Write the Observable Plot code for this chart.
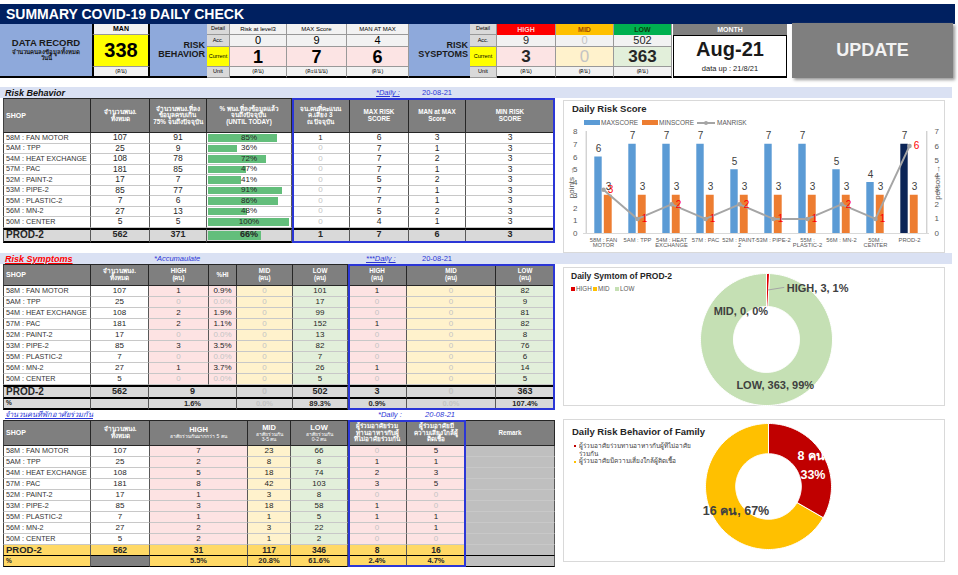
<!DOCTYPE html>
<html><head><meta charset="utf-8">
<script src="https://cdn.jsdelivr.net/npm/d3@7"></script>
<script src="https://cdn.jsdelivr.net/npm/@observablehq/plot@0.6"></script>
<style>
body{margin:0;background:#fff;font-family:"Liberation Sans",Arial,sans-serif;}
#root{position:relative;width:958px;height:575px;overflow:hidden;background:#fff;}
.c{position:absolute;box-sizing:border-box;display:flex;align-items:center;justify-content:center;text-align:center;overflow:hidden;white-space:pre-line;line-height:1.05;}
.l{position:absolute;white-space:nowrap;line-height:1;}
</style></head><body><div id="root"></div><script>
// ---------------- DATA ----------------
const shops = ["58M : FAN MOTOR","5AM : TPP","54M : HEAT EXCHANGE","57M : PAC","52M : PAINT-2","53M : PIPE-2","55M : PLASTIC-2","56M : MN-2","50M : CENTER"];
const totalStaff = [107,25,108,181,17,85,7,27,5];
const complete75 = [91,9,78,85,7,77,6,13,5];
const pctComplete = [85,36,72,47,41,91,86,48,100];
const riskLevel3 = [1,0,0,0,0,0,0,0,0];
const maxScore = [6,7,7,7,5,7,7,5,4];
const manAtMax = [3,1,2,1,2,1,1,2,1];
const minScore = [3,3,3,3,3,3,3,3,3];
const behaviorTotal = ["PROD-2",562,371,66,1,7,6,3];

const accHigh = [1,0,2,2,0,3,0,1,0];
const accHighPct = ["0.9%","0.0%","1.9%","1.1%","0.0%","3.5%","0.0%","3.7%","0.0%"];
const accMid = [0,0,0,0,0,0,0,0,0];
const accLow = [101,17,99,152,13,82,7,26,5];
const dayHigh = [1,0,0,1,0,0,0,1,0];
const dayMid = [0,0,0,0,0,0,0,0,0];
const dayLow = [82,9,81,82,8,76,6,14,5];
const symTotal = ["PROD-2",562,9,0,502,3,0,363];
const symPct = ["%","","1.6%","0.0%","89.3%","0.9%","0.0%","107.4%"];

const famHigh = [7,2,5,8,1,3,1,2,2];
const famMid = [23,8,18,42,3,18,1,3,1];
const famLow = [66,8,74,103,8,58,5,22,2];
const famEat = [0,1,2,3,0,1,1,0,0];
const famNear = [5,1,3,5,0,0,1,1,0];
const famTotal = ["PROD-2",562,31,117,346,8,16,""];
const famPct = ["%","","5.5%","20.8%","61.6%","2.4%","4.7%",""];

const manToday = 338;
const behaviorHeads = ["Risk at level3","MAX Score","MAN AT MAX"];
const behaviorAcc = [0,9,4];
const behaviorCur = [1,7,6];
const behaviorUnits = ["(คน)","(คะแนน)","(คน)"];
const symHeads = ["HIGH","MID","LOW"];
const symAcc = [9,0,502];
const symCur = [3,0,363];
const detailLabels = ["Detail","Acc.","Current","Unit"];
const monthLabel = "Aug-21";
const dataUp = "data up : 21/8/21";

const chartCats = ["58M : FAN\nMOTOR","5AM : TPP","54M : HEAT\nEXCHANGE","57M : PAC","52M : PAINT-\n2","53M : PIPE-2","55M :\nPLASTIC-2","56M : MN-2","50M :\nCENTER","PROD-2"];
const chartMax = [6,7,7,7,5,7,7,5,4,7];
const chartMin = [3,3,3,3,3,3,3,3,3,3];
const chartManRisk = [3,1,2,1,2,1,1,2,1,6];

const symDailyNames = ["HIGH","MID","LOW"];
const symDailyValues = [3,0,363];
const famDailyNames = ["ผู้ร่วมอาศัยร่วมทานอาหารกับผู้ที่ไม่อาศัยร่วมกัน","ผู้ร่วมอาศัยมีความเสี่ยงใกล้ผู้ติดเชื้อ"];
const famDailyValues = [8,16];

const t1Head = ["SHOP","จำนวนพนง.\nทั้งหมด","จำนวนพนง.ที่ลง\nข้อมูลครบเกิน\n75% จนถึงปัจจุบัน","% พนง.ที่ลงข้อมูลแล้ว\nจนถึงปัจจุบัน\n(UNTIL TODAY)","จน.คนที่คะแนน\nค.เสี่ยง 3\nณ ปัจจุบัน","MAX RISK\nSCORE","MAN at MAX\nScore","MIN RISK\nSCORE"];
const t2Head = ["SHOP","จำนวนพนง.\nทั้งหมด","HIGH\n(คน)","%HI","MID\n(คน)","LOW\n(คน)","HIGH\n(คน)","MID\n(คน)","LOW\n(คน)"];
const t3Head = ["SHOP","จำนวนพนง.\nทั้งหมด","HIGH","MID","LOW","ผู้ร่วมอาศัยร่วม\nทานอาหารกับผู้\nที่ไม่อาศัยร่วมกัน","ผู้ร่วมอาศัยมี\nความเสี่ยงใกล้ผู้\nติดเชื้อ","Remark"];
const t3Sub = ["","","อาศัยร่วมกันมากกว่า 5 คน","อาศัยร่วมกัน\n3-5 คน","อาศัยร่วมกัน\n0-2 คน","","",""];

// ---------------- HELPERS ----------------
const NAVY="#002060", HDR="#7f7f7f", PINK="#fde3e3", YEL="#fff2cc", GRN="#e2efda", GREY="#d9d9d9", FADE="#c4c4c4", BAND="#dae1f3", PERI="#8ea9db", BLUE="#2b36d6";
const root=document.getElementById('root');
function box(x,y,w,h,content,st={},html=false){
  const d=document.createElement('div'); d.className='c';
  Object.assign(d.style,{left:x+'px',top:y+'px',width:w+'px',height:h+'px'},st);
  const t=document.createElement('div'); t.style.position='relative';
  if(html) t.innerHTML=content; else t.textContent=(content==null?'':String(content));
  d.appendChild(t); root.appendChild(d); return d;
}
function label(x,y,text,st={}){
  const d=document.createElement('div'); d.className='l';
  Object.assign(d.style,{left:x+'px',top:y+'px'},st); d.textContent=text; root.appendChild(d); return d;
}
function grid(x0,y0,colW,rowH,fn){
  const xs=[x0]; colW.forEach(w=>xs.push(xs[xs.length-1]+w));
  const ys=[y0]; rowH.forEach(h=>ys.push(ys[ys.length-1]+h));
  for(let r=0;r<rowH.length;r++){
    for(let c=0;c<colW.length;){
      const s=fn(r,c)||{}; const span=s.span||1; const w=xs[c+span]-xs[c];
      const st=Object.assign({background:s.bg||'#fff',color:s.color||'#262626',fontSize:(s.size||8)+'px',fontWeight:s.bold?'bold':'normal',
        borderRight:'1px solid '+(s.bc||'#595959'),borderBottom:'1px solid '+(s.bbc||'#c8c8c8')},
        c===0?{borderLeft:'1px solid #404040'}:{},
        s.align==='left'?{justifyContent:'flex-start',textAlign:'left',paddingLeft:'2px'}:{}, s.st||{});
      const d=box(xs[c],ys[r],w,rowH[r],s.html||s.text,st,!!s.html);
      if(s.bar!=null){
        const b=document.createElement('div');
        Object.assign(b.style,{position:'absolute',left:'1px',top:'1px',bottom:'1px',width:((w-4)*s.bar/100)+'px',background:'#63be7b'});
        d.insertBefore(b,d.firstChild);
      }
      c+=span;
    }
  }
  return {xs,ys};
}
function blueBox(x1,y1,x2,y2){ box(x1,y1,x2-x1,y2-y1,'',{border:'2px solid '+BLUE,background:'transparent'}); }
const fade=v=>v===0?FADE:'#262626';
const headCell=(t,c)=>({text:t,bg:HDR,color:'#fff',bold:true,size:c===0?7:6.3,align:c===0?'left':'center',bc:'#262626',bbc:'#262626',st:{borderTop:'1px solid #262626'}});
const totStyle={borderTop:'2px solid #000',borderBottom:'2px solid #000'};

// ---------------- HEADER ----------------
box(0,4,955,20,"SUMMARY COVID-19 DAILY CHECK",{background:NAVY,color:'#fff',fontWeight:'bold',fontSize:'14px',justifyContent:'flex-start',paddingLeft:'6px'});
const ty=[24,35,47,67,78];
box(0,24,92,54,'<div style="font-size:9.5px;font-weight:bold">DATA RECORD</div><div style="font-size:6px;font-weight:bold;margin-top:1px">จำนวนคนลงข้อมูลทั้งหมด<br>วันนี้</div>',{background:PERI,color:'#1a1a1a',borderBottom:'2px solid #000'},true);
box(92,24,58,11,"MAN",{background:'#f2f2f2',fontWeight:'bold',fontSize:'7px',borderLeft:'2px solid #000',borderRight:'2px solid #000',borderBottom:'1px solid #999'});
box(92,35,58,32,manToday,{background:'#ffff00',fontWeight:'bold',fontSize:'20px',borderLeft:'2px solid #000',borderRight:'2px solid #000',borderBottom:'1px solid #999'});
box(92,67,58,11,"(คน)",{background:'#f2f2f2',fontSize:'5.5px',borderLeft:'2px solid #000',borderRight:'2px solid #000',borderBottom:'2px solid #000'});
box(150,24,57,54,"RISK\nBEHAVIOR",{background:PERI,fontWeight:'bold',fontSize:'9px',justifyContent:'flex-end',textAlign:'right',paddingRight:'2px',color:'#1a1a1a',borderBottom:'2px solid #000'});
function detailCol(x,w){
  detailLabels.forEach((t,i)=>box(x,ty[i],w,ty[i+1]-ty[i],t,{background:t==="Current"?'#ffff00':GREY,fontSize:'5.5px',lineHeight:'1',borderBottom:'1px solid #999',borderRight:'1px solid #999'}));
}
detailCol(207,23);
const bx=[230,287,347,409];
behaviorHeads.forEach((h,i)=>{
  const x=bx[i], w=bx[i+1]-x;
  box(x,ty[0],w,11,h,{background:'#f2f2f2',fontSize:'6px',lineHeight:'1',borderRight:'1px solid #999',borderBottom:'1px solid #999'});
  box(x,ty[1],w,12,behaviorAcc[i],{background:'#f2f2f2',fontSize:'11px',lineHeight:'1',borderRight:'1px solid #999',borderBottom:'1px solid #999'});
  box(x,ty[2],w,20,behaviorCur[i],{background:'#fce4e4',fontSize:'18px',lineHeight:'1',fontWeight:'bold',borderRight:'1px solid #999',borderBottom:'1px solid #999'});
  box(x,ty[3],w,11,behaviorUnits[i],{background:'#f2f2f2',fontSize:'5.5px',lineHeight:'1',borderRight:'1px solid #999',borderBottom:'2px solid #000'});
});
box(409,24,61,54,"RISK\nSYSPTOMS",{background:PERI,fontWeight:'bold',fontSize:'9px',justifyContent:'flex-end',textAlign:'right',paddingRight:'2px',color:'#1a1a1a',borderBottom:'2px solid #000'});
detailCol(470,27);
const sx=[497,556,614,672];
const symHeadBg=['#ff0000','#ffc000','#00b050'], symHeadFg=['#ffd0d0','#9c4a00','#0b3d0b'], symCurBg=['#fce4e4',YEL,GRN];
symHeads.forEach((h,i)=>{
  const x=sx[i], w=sx[i+1]-x;
  box(x,ty[0],w,11,h,{background:symHeadBg[i],color:symHeadFg[i],fontWeight:'bold',fontSize:'7px',lineHeight:'1',borderRight:'1px solid #999'});
  box(x,ty[1],w,12,symAcc[i],{background:'#f2f2f2',fontSize:'11px',lineHeight:'1',color:fade(symAcc[i]),borderRight:'1px solid #999',borderBottom:'1px solid #999'});
  box(x,ty[2],w,20,symCur[i],{background:symCurBg[i],fontSize:'17px',lineHeight:'1',fontWeight:symCur[i]?'bold':'normal',color:fade(symCur[i]),borderRight:'1px solid #999',borderBottom:'1px solid #999'});
  box(x,ty[3],w,11,"(คน)",{background:'#f2f2f2',fontSize:'5.5px',lineHeight:'1',borderRight:'1px solid #999',borderBottom:'2px solid #000'});
});
box(673,24,114,11,"MONTH",{background:'#808080',color:'#fff',fontWeight:'bold',fontSize:'7px'});
box(673,35,114,43,'<div style="font-size:20px;font-weight:bold">'+monthLabel+'</div><div style="font-size:7.5px;margin-top:5px">'+dataUp+'</div>',{border:'1px solid #000',borderBottom:'2px solid #000',background:'#fff',color:'#1a1a1a'},true);
box(792,23,161,55,"UPDATE",{background:'#7f7f7f',color:'#f2f2f2',fontWeight:'bold',fontSize:'18px',boxShadow:'2px 2px 3px #999'});

// ---------------- SECTION BANDS ----------------
box(0,87,952,11,'',{background:BAND});
label(5,88.5,"Risk Behavior",{fontWeight:'bold',fontStyle:'italic',fontSize:'9px',color:'#111'});
label(376,89,"*Daily :",{fontStyle:'italic',textDecoration:'underline',fontSize:'7.5px',color:BLUE});
label(422,89,"20-08-21",{fontSize:'7.5px',color:BLUE});
box(0,253,952,11,'',{background:BAND});
label(5,254.5,"Risk Symptoms",{fontWeight:'bold',fontStyle:'italic',fontSize:'9px',color:'#ff0000',textDecoration:'underline'});
label(154,254.5,"*Accumaulate",{fontStyle:'italic',fontSize:'7.5px',color:BLUE});
label(366,255,"***Daily :",{fontStyle:'italic',textDecoration:'underline',fontSize:'7.5px',color:BLUE});
label(422,255,"20-08-21",{fontSize:'7.5px',color:BLUE});
label(5,410.5,"จำนวนคนที่พักอาศัยร่วมกัน",{fontStyle:'italic',textDecoration:'underline',fontSize:'7.5px',color:BLUE});
label(378,410.5,"*Daily :",{fontStyle:'italic',fontSize:'7.5px',color:BLUE});
label(425,410.5,"20-08-21",{fontStyle:'italic',fontSize:'7.5px',color:BLUE});

// ---------------- TABLE 1 ----------------
const g1=grid(3,98,[88,59,57,85,58,59,57,89],[35].concat(Array(9).fill(10.5),[15]),(r,c)=>{
  if(r===0) return headCell(t1Head[c],c);
  if(r<=9){
    const i=r-1; const vals=[shops[i],totalStaff[i],complete75[i],pctComplete[i],riskLevel3[i],maxScore[i],manAtMax[i],minScore[i]];
    if(c===0) return {text:vals[0],align:'left',size:7.2,color:'#333'};
    if(c===3) return {bar:vals[3],text:vals[3]+'%',size:8};
    if(c===4) return {text:vals[4],color:fade(vals[4]),size:8};
    return {text:vals[c],size:8.5};
  }
  const v=behaviorTotal[c];
  if(c===0) return {text:v,bg:GREY,bold:true,size:10,align:'left',st:totStyle};
  if(c===3) return {text:v+'%',bar:v,bg:GREY,bold:true,size:9,st:totStyle};
  return {text:v,bg:GREY,bold:true,size:9,st:totStyle};
});
blueBox(g1.xs[4],98,g1.xs[8],243);

// ---------------- TABLE 2 ----------------
const g2=grid(3,264,[88,58,60,28,56,55,59,89,59],[22].concat(Array(9).fill(11),[14,11]),(r,c)=>{
  if(r===0) return headCell(t2Head[c],c);
  const bgs=['#fff','#fff',PINK,PINK,YEL,GRN,PINK,YEL,GRN];
  if(r<=9){
    const i=r-1; const vals=[shops[i],totalStaff[i],accHigh[i],accHighPct[i],accMid[i],accLow[i],dayHigh[i],dayMid[i],dayLow[i]];
    if(c===0) return {text:vals[0],align:'left',size:7.2,color:'#333'};
    const v=vals[c]; const z=(v===0||v==="0.0%");
    return {text:v,bg:bgs[c],color:z?FADE:'#262626',size:8};
  }
  if(r===10){
    const map=[0,1,2,2,3,4,5,6,7]; const v=symTotal[map[c]];
    if(c===0) return {text:v,bg:GREY,bold:true,size:10,align:'left',st:totStyle};
    if(c===2) return {text:v,span:2,bg:GREY,bold:true,size:9,st:totStyle};
    return {text:v,bg:GREY,bold:true,size:9,color:v===0?FADE:'#262626',st:totStyle};
  }
  const map=[0,1,2,2,3,4,5,6,7]; const v=symPct[map[c]];
  if(c===2) return {text:v,span:2,bg:GREY,bold:true,size:7.5,st:{borderBottom:'2px solid #000'}};
  return {text:v,bg:GREY,bold:true,size:c===0?6.5:7.5,align:c===0?'left':'center',color:v==="0.0%"?FADE:'#262626',st:{borderBottom:'2px solid #000'}};
});
blueBox(g2.xs[6],264,g2.xs[9],410);

// ---------------- TABLE 3 ----------------
const g3=grid(3,420,[88,59,98,43,57,59,59,89],[26].concat(Array(9).fill(11),[11,11]),(r,c)=>{
  if(r===0){
    const h=headCell(t3Head[c],c);
    if(t3Sub[c]){ h.html='<div style="font-size:7.5px;font-weight:bold">'+t3Head[c]+'</div><div style="font-size:5px;font-weight:normal;white-space:pre-line">'+t3Sub[c]+'</div>'; }
    return h;
  }
  const bgs=['#fff','#fff',PINK,YEL,GRN,PINK,PINK,'#bfbfbf'];
  if(r<=9){
    const i=r-1; const vals=[shops[i],totalStaff[i],famHigh[i],famMid[i],famLow[i],famEat[i],famNear[i],""];
    if(c===0) return {text:vals[0],align:'left',size:7.2,color:'#333'};
    return {text:vals[c],bg:bgs[c],color:fade(vals[c]),size:8};
  }
  const arr=r===10?famTotal:famPct;
  const bg=c===7?'#bfbfbf':(r===11&&c===1?'#808080':'#ffd966');
  return {text:arr[c],bg,bold:true,size:r===10?(c===0?9.5:8.5):(c===0?6.5:7.5),align:c===0?'left':'center',st:{borderBottom:'1px solid #000'}};
});
blueBox(g3.xs[5],420,g3.xs[7],567);

// ---------------- PANELS ----------------
box(563,100,382,153,'',{border:'1px solid #d9d9d9',background:'#fff'});
label(572,104,"Daily Risk Score",{fontWeight:'bold',fontSize:'9.5px',color:'#262626'});
box(584,120,16,5,'',{background:'#5b9bd5'}); label(601,119.5,"MAXSCORE",{fontSize:'6.5px',color:'#595959'});
box(642,120,16,5,'',{background:'#ed7d31'}); label(659,119.5,"MINSCORE",{fontSize:'6.5px',color:'#595959'});
box(697,121.5,18,2,'',{background:'#a5a5a5'}); box(704,120.5,4,4,'',{background:'#a5a5a5',borderRadius:'2px'}); label(717,119.5,"MANRISK",{fontSize:'6.5px',color:'#595959'});

box(563,267,382,139,'',{border:'1px solid #d9d9d9',background:'#fff'});
label(571,272,"Daily Symtom of PROD-2",{fontWeight:'bold',fontSize:'8.5px',color:'#262626'});
const symColors=['#e00000','#ffc000','#c5e0b4'];
symDailyNames.forEach((n,i)=>{ box(571+i*22,287,4,4,'',{background:symColors[i]}); label(576+i*22,286,n,{fontSize:'6.3px',color:'#595959'}); });

box(563,419,382,143,'',{border:'1px solid #d9d9d9',background:'#fff'});
label(572,427,"Daily Risk Behavior of Family",{fontWeight:'bold',fontSize:'9.5px',color:'#262626'});
const famColors=['#c00000','#ffc000'];
box(574,445,2,2,'',{background:famColors[0]});
box(579,442,130,20,famDailyNames[0],{fontSize:'6.5px',color:'#404040',justifyContent:'flex-start',textAlign:'left',alignItems:'flex-start',whiteSpace:'normal',lineHeight:'1.3',width:'122px',height:'20px'});
box(574,461,2,2,'',{background:famColors[1]});
label(579,458,famDailyNames[1],{fontSize:'6.5px',color:'#404040'});

// ---------------- PLOT: Daily Risk Score ----------------
const rows=chartCats.map((cat,i)=>({cat,max:chartMax[i],min:chartMin[i],man:chartManRisk[i],prod:i===chartCats.length-1}));
const W=382,mL=20,mR=16; const bw=(W-mL-mR)/chartCats.length; const k=8/7;
const chart=Plot.plot({
  width:W,height:130,marginLeft:mL,marginRight:mR,marginTop:5,marginBottom:23,
  style:{fontFamily:'"Liberation Sans",Arial,sans-serif',background:'transparent',overflow:'visible'},
  x:{domain:chartCats,padding:0},
  y:{domain:[0,8]},
  color:{type:'identity'},
  marks:[
    Plot.barY(rows,{x:'cat',y:'max',fill:d=>d.prod?'#0b2456':'#5b9bd5',insetLeft:bw/2-9,insetRight:bw/2+1}),
    Plot.barY(rows,{x:'cat',y:'min',fill:'#ed7d31',insetLeft:bw/2+0.5,insetRight:bw/2-9}),
    Plot.ruleY([0],{stroke:'#d9d9d9'}),
    Plot.ruleX([chartCats[0]],{dx:-bw/2,stroke:'#bfbfbf'}),
    Plot.ruleX([chartCats[chartCats.length-1]],{dx:bw/2,stroke:'#bfbfbf'}),
    Plot.text(rows,{x:'cat',y:'max',text:d=>String(d.max),dx:-5,dy:-8,fontSize:10,fill:'#404040'}),
    Plot.text(rows,{x:'cat',y:'min',text:d=>String(d.min),dx:5,dy:-8,fontSize:10,fill:'#404040'}),
    Plot.line(rows,{x:'cat',y:d=>d.man*k,stroke:'#a5a5a5',strokeWidth:2}),
    Plot.dot(rows,{x:'cat',y:d=>d.man*k,r:2.3,fill:'#a5a5a5'}),
    Plot.text(rows,{x:'cat',y:d=>d.man*k,text:d=>String(d.man),dx:7,fontSize:10,fill:'#ff0000'}),
    Plot.axisY(d3.range(0,9),{anchor:'left',tickSize:0,tickPadding:6,fontSize:8,color:'#595959',label:'points',labelAnchor:'center',labelOffset:15}),
    Plot.axisY(d3.range(0,8).map(v=>v*k),{anchor:'right',tickSize:0,tickPadding:5,fontSize:8,color:'#595959',tickFormat:d=>String(Math.round(d/k)),label:'person',labelAnchor:'center',labelOffset:10}),
    Plot.axisX({tickSize:0,tickPadding:4,fontSize:5.8,color:'#595959',label:null})
  ]
});
const cw=document.createElement('div'); Object.assign(cw.style,{position:'absolute',left:'563px',top:'126px'}); cw.appendChild(chart); root.appendChild(cw);

// ---------------- PLOT: donuts ----------------
function slices(values){ const tot=d3.sum(values); let a=0; return values.map((v,i)=>{const a0=a; a+=v/tot*2*Math.PI; return {i,v,a0,a1:a,mid:(a0+a)/2,pct:v/tot};}); }
function arcPts(a0,a1,r0,r1){ const n=Math.max(2,Math.ceil((a1-a0)/0.03)); const p=[];
  for(let j=0;j<=n;j++){const a=a0+(a1-a0)*j/n; p.push({x:r1*Math.sin(a),y:r1*Math.cos(a)});}
  for(let j=n;j>=0;j--){const a=a0+(a1-a0)*j/n; p.push({x:r0*Math.sin(a),y:r0*Math.cos(a)});}
  return p; }
function donut(size,inner,sl,colors,textMarks){
  return Plot.plot({width:size,height:size,margin:2,x:{domain:[-1,1],axis:null},y:{domain:[-1,1],axis:null},
    style:{fontFamily:'"Liberation Sans",Arial,sans-serif',background:'transparent',overflow:'visible'},
    marks:[...sl.filter(s=>s.v>0).map(s=>Plot.line(arcPts(s.a0,s.a1,inner,1),{x:'x',y:'y',fill:colors[s.i],stroke:'#fff',strokeWidth:1,curve:'linear-closed'})),...textMarks]});
}
const s1=slices(symDailyValues);
const rm1=0.75;
const lab1=s1.map(s=>({x:rm1*Math.sin(s.mid),y:rm1*Math.cos(s.mid),t:`${symDailyNames[s.i]}, ${s.v}, ${Math.round(s.pct*100)}%`}));
const d1=donut(136,0.5,s1,symColors,[
  Plot.link([lab1[0]],{x1:'x',y1:'y',x2:d=>d.x+0.25,y2:d=>d.y+0.04,stroke:'#a5a5a5'}),
  Plot.text([lab1[0]],{x:'x',y:'y',text:'t',textAnchor:'start',dx:19,dy:-2,fontSize:11,fontWeight:'bold',fill:'#404040'}),
  Plot.text([lab1[1]],{x:'x',y:'y',text:'t',textAnchor:'end',dx:-1,dy:21,fontSize:11,fontWeight:'bold',fill:'#404040'}),
  Plot.text([lab1[2]],{x:'x',y:'y',text:'t',dx:10,dy:-4,fontSize:11,fontWeight:'bold',fill:'#404040'})
]);
const dw1=document.createElement('div'); Object.assign(dw1.style,{position:'absolute',left:'698px',top:'271px'}); dw1.appendChild(d1); root.appendChild(dw1);

const s2=slices(famDailyValues);
const rm2=0.76;
const lab2=s2.map(s=>({x:rm2*Math.sin(s.mid),y:rm2*Math.cos(s.mid),v:s.v,p:Math.round(s.pct*100)}));
const d2=donut(130,0.52,s2,famColors,[
  Plot.text([lab2[0]],{x:'x',y:'y',text:d=>`${d.v} คน,\n${d.p}%`,dx:3,dy:1,fontSize:12.5,fontWeight:'bold',fill:'#fff',lineHeight:1.5}),
  Plot.text([lab2[1]],{x:'x',y:'y',text:d=>`${d.v} คน, ${d.p}%`,dx:9,dy:1,fontSize:12.5,fontWeight:'bold',fill:'#404040'})
]);
const dw2=document.createElement('div'); Object.assign(dw2.style,{position:'absolute',left:'703px',top:'421px'}); dw2.appendChild(d2); root.appendChild(dw2);
</script></body></html>
